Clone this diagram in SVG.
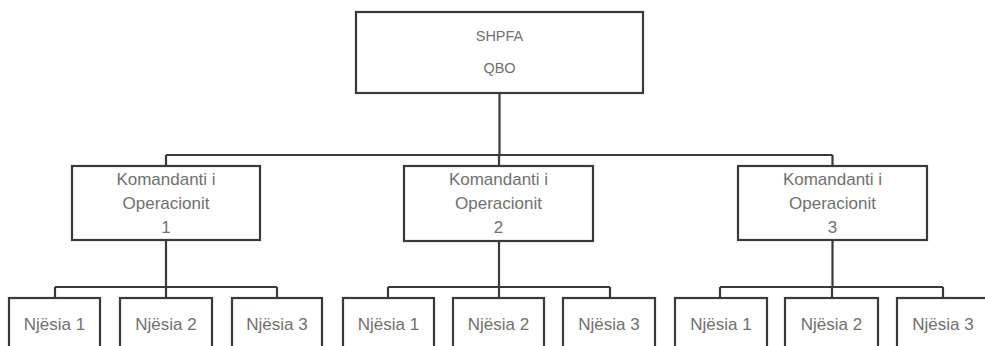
<svg xmlns="http://www.w3.org/2000/svg" width="985" height="346" viewBox="0 0 985 346">
<style>
.box{fill:#ffffff;stroke:#3a3a3a;stroke-width:2.2}
.ln{fill:none;stroke:#3a3a3a;stroke-width:2.2}
text{font-family:"Liberation Sans",Arial,sans-serif;fill:#707070;text-anchor:middle}
.t1{font-size:14.5px}
.t2{font-size:17px}
</style>
<rect width="985" height="346" fill="#ffffff"/>
<g id="connectors">
<path class="ln" d="M499.5,93 V155 M166,155 H832.5 M166,155 V166 M499,155 V166 M832.5,155 V166"/>
<path class="ln" d="M166,240 V287 M55,287 H277 M55,287 V298 M166,287 V298 M277,287 V298"/>
<path class="ln" d="M499,241 V287 M388,287 H610 M388,287 V298 M499,287 V298 M610,287 V298"/>
<path class="ln" d="M832.5,240 V287 M720,287 H943 M720,287 V298 M832,287 V298 M943,287 V298"/>
</g>
<g id="root">
<rect class="box" x="356" y="12" width="287" height="81"/>
<text class="t1" x="499.5" y="41">SHPFA</text>
<text class="t1" x="499.5" y="73">QBO</text>
</g>
<g id="cmd1">
<rect class="box" x="72" y="166" width="188" height="74"/>
<text class="t2" x="166" y="185">Komandanti i</text>
<text class="t2" x="166" y="209">Operacionit</text>
<text class="t2" x="166" y="233">1</text>
</g>
<g id="cmd2">
<rect class="box" x="404" y="166" width="189" height="75"/>
<text class="t2" x="498.5" y="185">Komandanti i</text>
<text class="t2" x="498.5" y="209">Operacionit</text>
<text class="t2" x="498.5" y="233">2</text>
</g>
<g id="cmd3">
<rect class="box" x="738" y="166" width="189" height="74"/>
<text class="t2" x="832.5" y="185">Komandanti i</text>
<text class="t2" x="832.5" y="209">Operacionit</text>
<text class="t2" x="832.5" y="233">3</text>
</g>
<g id="u1-1"><rect class="box" x="9" y="298" width="91" height="60"/><text class="t2" x="54.5" y="330">Njësia 1</text></g>
<g id="u1-2"><rect class="box" x="120" y="298" width="92" height="60"/><text class="t2" x="166" y="330">Njësia 2</text></g>
<g id="u1-3"><rect class="box" x="232" y="298" width="90" height="60"/><text class="t2" x="277" y="330">Njësia 3</text></g>
<g id="u2-1"><rect class="box" x="343" y="298" width="91" height="60"/><text class="t2" x="388.5" y="330">Njësia 1</text></g>
<g id="u2-2"><rect class="box" x="453" y="298" width="91" height="60"/><text class="t2" x="498.5" y="330">Njësia 2</text></g>
<g id="u2-3"><rect class="box" x="563" y="298" width="92" height="60"/><text class="t2" x="609" y="330">Njësia 3</text></g>
<g id="u3-1"><rect class="box" x="675" y="298" width="92" height="60"/><text class="t2" x="721" y="330">Njësia 1</text></g>
<g id="u3-2"><rect class="box" x="785" y="298" width="93" height="60"/><text class="t2" x="831.5" y="330">Njësia 2</text></g>
<g id="u3-3"><rect class="box" x="897" y="298" width="92" height="60"/><text class="t2" x="943" y="330">Njësia 3</text></g>
</svg>
